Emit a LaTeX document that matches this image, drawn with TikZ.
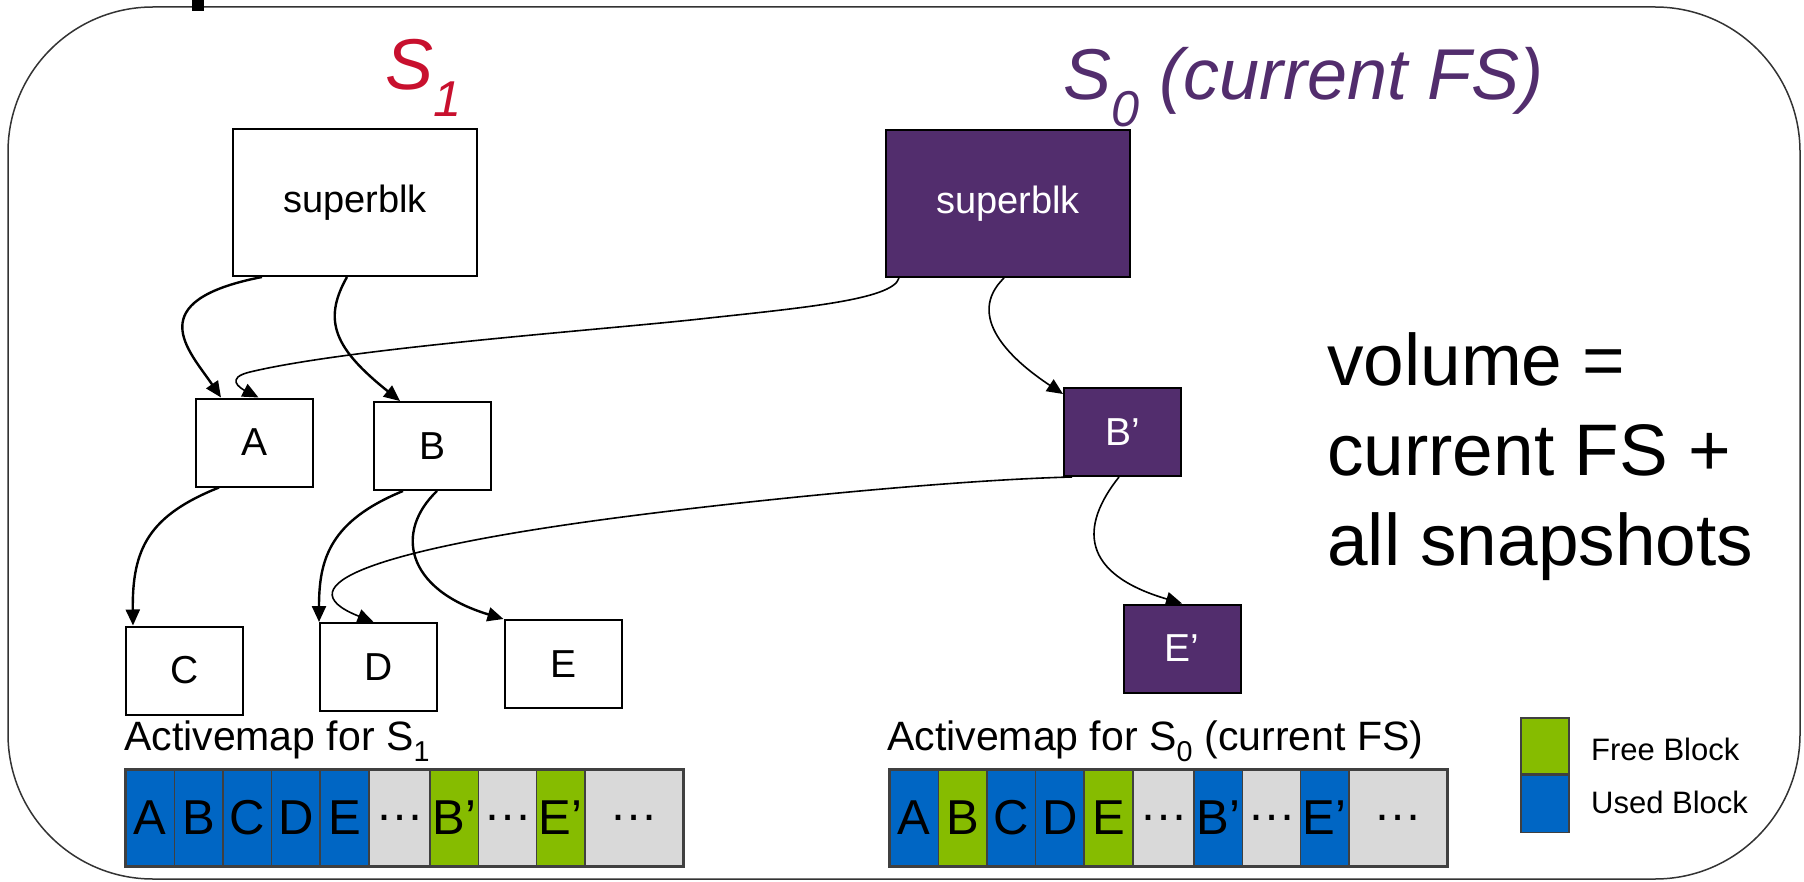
\documentclass[tikz,border=0pt]{standalone}
\usepackage{fontspec}
\setmainfont{Liberation Sans}
\usepackage{xcolor}
\usepackage{tikz}
\usetikzlibrary{arrows.meta,calc}

\definecolor{snapred}{RGB}{200,16,46}
\definecolor{fspurple}{RGB}{82,45,109}
\definecolor{usedblue}{RGB}{0,102,196}
\definecolor{freegreen}{RGB}{134,188,0}
\definecolor{idlegray}{RGB}{217,217,217}

\begin{document}
\begin{tikzpicture}[x=1pt,y=-1pt,
    blk/.style={draw,line width=2pt,minimum width=117pt,minimum height=88pt,inner sep=0pt,font=\fontsize{39}{44}\selectfont},
    curblk/.style={blk,fill=fspurple,text=white},
    sblk/.style={blk,minimum width=244pt,minimum height=147pt,font=\fontsize{38}{44}\selectfont},
    ptr/.style={line width=2.4pt,-{Triangle[length=16pt,width=14pt]}},
    curptr/.style={ptr,line width=1.6pt},
    cell/.style={draw=black!75,line width=1.5pt,minimum height=96pt,inner sep=0pt,font=\fontsize{49}{56}\selectfont},
    label/.style={anchor=base west,inner sep=0pt}]
  \useasboundingbox (0,0) rectangle (1804,882);
  \draw[black!80,line width=1.5pt,rounded corners=145pt] (8,7) rectangle (1800,879);
  \fill (192,0) rectangle (204,11);

  \node[label,text=snapred,font=\fontsize{72}{80}\selectfont\itshape] (snaptitle) at (385,90) {S\textsubscript{1}};
  \node[label,text=fspurple,font=\fontsize{72}{80}\selectfont\itshape] (curtitle) at (1063,100) {S\textsubscript{0} (current FS)};

  \node[sblk] (sb1) at (355,202.5) {superblk};
  \node[sblk,fill=fspurple,text=white] (sb0) at (1008,203.5) {superblk};
  \node[blk] (A) at (254.5,442.5) {A};
  \node[blk] (B) at (432.5,446) {B};
  \node[blk] (C) at (184.5,670.5) {C};
  \node[blk] (D) at (378.5,667) {D};
  \node[blk] (E) at (563,664) {E};
  \node[curblk] (Bp) at (1122.5,432) {B’};
  \node[curblk] (Ep) at (1182,648.5) {E’};

  \draw[ptr] ($(sb1.south west)+(30,0)$) .. controls +(-123,24) and +(-32,-47) .. ($(A.north west)+(26,0)$);
  \draw[ptr] ($(sb1.south)+(-8,0)$) .. controls +(-25,44) and +(-65,-52) .. ($(B.north west)+(27,0)$);
  \draw[ptr] ($(A.south west)+(24,0)$) .. controls +(-70,28) and +(-1,-77) .. ($(C.north west)+(8,0)$);
  \draw[ptr] ($(B.south west)+(30,0)$) .. controls +(-73,30) and +(0,-63) .. (D.north west);
  \draw[ptr] ($(B.south)+(4.5,0)$) .. controls +(-42,40) and +(-99,-30) .. (E.north west);

  \draw[curptr] ($(sb0.south west)+(14,0)$) .. controls (893,300) and (800,308) .. (700,319)
    .. controls (600,330) and (350,348) .. (250,372) .. controls (225,378) and (240,388) .. ($(A.north)+(4,0)$);
  \draw[curptr] ($(sb0.south)+(-4,0)$) .. controls +(-39,38) and +(-53,-35) .. ($(Bp.north west)+(0,7)$);
  \draw[curptr] ($(Bp.south west)+(9,0)$) .. controls (950,480) and (732,502) .. (600,520)
    .. controls (380,550) and (280,585) .. ($(D.north)+(-5,0)$);
  \draw[curptr] ($(Bp.south)+(-3.5,0)$) .. controls +(-39,49) and +(-102,-30) .. (Ep.north);

  \node[anchor=north west,align=left,inner sep=0pt,font=\fontsize{73}{90}\selectfont] (vol) at (1327,332) {volume =\\current FS +\\all snapshots};

  \node[label,font=\fontsize{41}{48}\selectfont] (oldmap) at (124,750) {Activemap for S\textsubscript{1}};
  \node[label,font=\fontsize{41}{48}\selectfont] (curmap) at (887,750) {Activemap for S\textsubscript{0} (current FS)};

  \foreach \x/\w/\t/\oldc/\curc [count=\i] in {0/48.5/A/usedblue/usedblue, 48.5/48.5/B/usedblue/freegreen,
      97/48.5/C/usedblue/usedblue, 145.5/48.5/D/usedblue/usedblue, 194/49/E/usedblue/freegreen,
      243/61/…/idlegray/idlegray, 304/48.5/B’/freegreen/usedblue, 352.5/58/…/idlegray/idlegray,
      410.5/48.5/E’/freegreen/usedblue, 459/98/…/idlegray/idlegray} {
    \node[cell,fill=\oldc,minimum width=\w pt] (old\i) at (126+\x+\w/2,818) {\t};
    \node[cell,fill=\curc,minimum width=\w pt] (cur\i) at (890+\x+\w/2,818) {\t};
  }
  \draw[black!75,line width=2pt] (old1.north west) rectangle (old10.south east);
  \draw[black!75,line width=2pt] (cur1.north west) rectangle (cur10.south east);

  \node[draw=black!75,line width=1.5pt,fill=freegreen,minimum width=48pt,minimum height=56pt,inner sep=0pt] (freekey) at (1545,746) {};
  \node[draw=black!75,line width=1.5pt,fill=usedblue,minimum width=48pt,minimum height=57pt,inner sep=0pt,anchor=north] (usedkey) at (freekey.south) {};
  \node[label,font=\fontsize{31}{36}\selectfont] (freetxt) at (1591,760) {Free Block};
  \node[label,font=\fontsize{31}{36}\selectfont] (usedtxt) at (1591,813) {Used Block};
\end{tikzpicture}
\end{document}
